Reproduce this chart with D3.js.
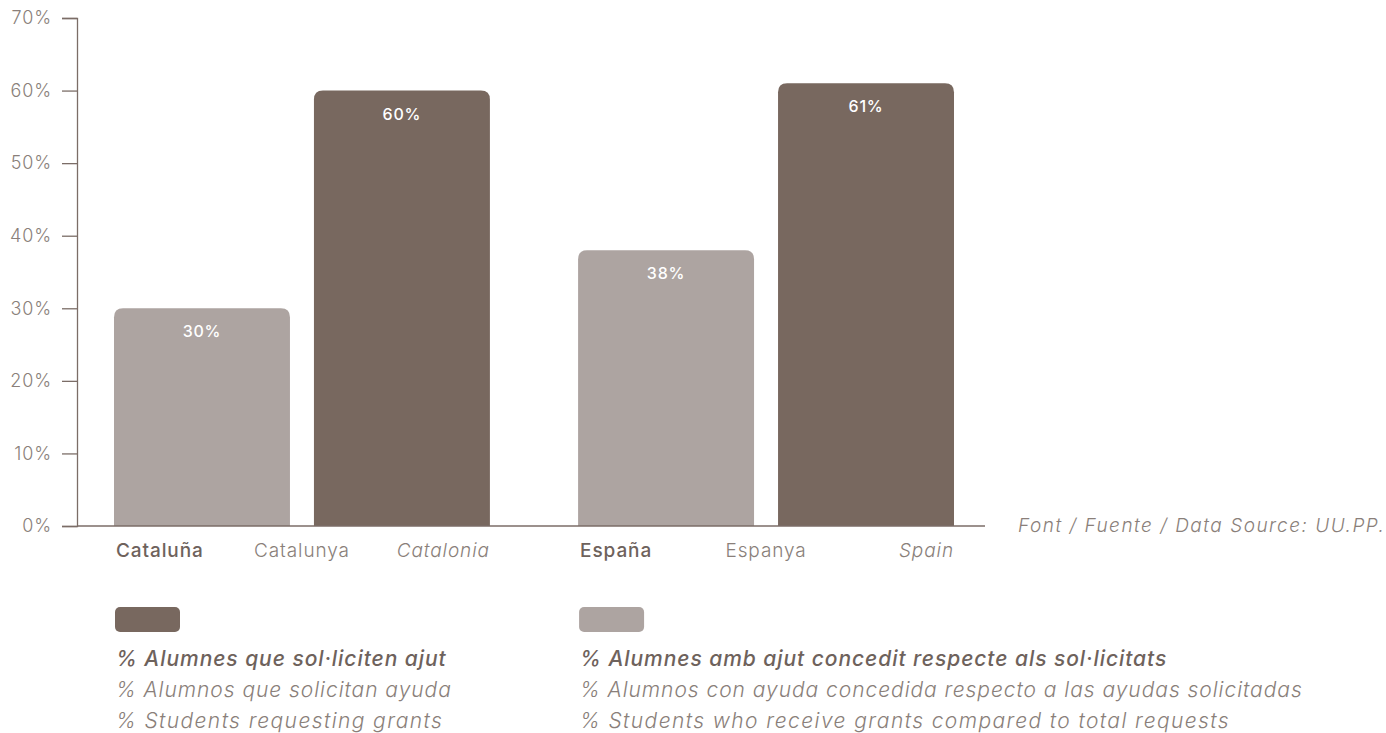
<!DOCTYPE html>
<html>
<head>
<meta charset="utf-8">
<script src="https://cdn.jsdelivr.net/npm/d3@7"></script>
<style>
  html, body { margin: 0; padding: 0; background: #ffffff; }
  svg { display: block; font-family: Inter, "Open Sans", sans-serif; }
</style>
</head>
<body>
<svg id="chart" width="1386" height="733"></svg>
<script>
// Regions and the three language labels shown under each group
const groups = ["Cataluña", "España"];
const groupLabels = [
  ["Cataluña", "Catalunya", "Catalonia"],
  ["España", "Espanya", "Spain"]
];
// Series: share of students with a granted aid vs. share requesting aid
const seriesKeys = ["concedit", "sollicitud"];
const valuesConcedit = [30, 38];
const valuesSollicitud = [60, 61];
const yTicks = [0, 10, 20, 30, 40, 50, 60, 70];
const sourceText = "Font / Fuente / Data Source: UU.PP.";
const legendDark = [
  "% Alumnes que sol·liciten ajut",
  "% Alumnos que solicitan ayuda",
  "% Students requesting grants"
];
const legendLight = [
  "% Alumnes amb ajut concedit respecte als sol·licitats",
  "% Alumnos con ayuda concedida respecto a las ayudas solicitadas",
  "% Students who receive grants compared to total requests"
];

const colors = { concedit: "#ada4a1", sollicitud: "#78685f" };
const axisColor = "#7b6d67";
const textColor = "#8a7f7a";
const darkText = "#6e625c";

const svg = d3.select("#chart");

const axisX = 77, axisRight = 985;
const y = d3.scaleLinear().domain([0, 70]).range([526, 18]);

const x0 = d3.scaleBand().domain(groups).range([114, 954]).paddingInner(0.19).paddingOuter(0);
const x1 = d3.scaleBand().domain(seriesKeys).range([0, x0.bandwidth()]).paddingInner(0.12).paddingOuter(0);

const data = groups.map((g, i) => ({
  group: g,
  values: [
    { key: "concedit", value: valuesConcedit[i] },
    { key: "sollicitud", value: valuesSollicitud[i] }
  ]
}));

// Bars with rounded top corners only
function topRoundedRect(x, yTop, w, yBottom, r) {
  return `M${x},${yBottom} L${x},${yTop + r} Q${x},${yTop} ${x + r},${yTop} ` +
         `L${x + w - r},${yTop} Q${x + w},${yTop} ${x + w},${yTop + r} L${x + w},${yBottom} Z`;
}

const gGroups = svg.append("g").selectAll("g").data(data).join("g")
  .attr("transform", d => `translate(${x0(d.group)},0)`);

gGroups.selectAll("path").data(d => d.values).join("path")
  .attr("d", d => topRoundedRect(x1(d.key), y(d.value), x1.bandwidth(), y(0), 9))
  .attr("fill", d => colors[d.key]);

gGroups.selectAll("text.val").data(d => d.values).join("text")
  .attr("class", "val")
  .attr("x", d => x1(d.key) + x1.bandwidth() / 2)
  .attr("y", d => y(d.value) + 29)
  .attr("text-anchor", "middle")
  .attr("fill", "#ffffff")
  .attr("font-size", 16)
  .attr("font-weight", 500)
  .attr("letter-spacing", 0.8)
  .text(d => d.value + "%");

// Y axis
const yAxis = d3.axisLeft(y).tickValues(yTicks).tickSize(15).tickPadding(10)
  .tickFormat(d => d + "%");
const gy = svg.append("g").attr("transform", `translate(${axisX},0)`).call(yAxis);
gy.select(".domain").attr("stroke", axisColor).attr("stroke-width", 1.3);
gy.selectAll(".tick line").attr("stroke", axisColor).attr("stroke-width", 1.3);
gy.selectAll(".tick text")
  .attr("fill", textColor)
  .attr("font-size", 18)
  .attr("font-weight", 300)
  .attr("letter-spacing", 0.9)
  .attr("font-family", "Inter, sans-serif");

// Baseline
svg.append("line")
  .attr("x1", axisX).attr("x2", axisRight)
  .attr("y1", y(0)).attr("y2", y(0))
  .attr("stroke", axisColor).attr("stroke-width", 1.3);

// Category labels
groups.forEach((g, i) => {
  const left = x0(g), right = x0(g) + x0.bandwidth();
  const labels = groupLabels[i];
  const ly = 557;
  svg.append("text").attr("x", left + 2).attr("y", ly)
    .attr("fill", darkText).attr("font-size", 19).attr("font-weight", 500)
    .attr("letter-spacing", 0.9)
    .text(labels[0]);
  svg.append("text").attr("x", (left + right) / 2).attr("y", ly)
    .attr("text-anchor", "middle")
    .attr("fill", textColor).attr("font-size", 19).attr("font-weight", 300)
    .attr("letter-spacing", 0.9)
    .text(labels[1]);
  svg.append("text").attr("x", right).attr("y", ly)
    .attr("text-anchor", "end")
    .attr("fill", textColor).attr("font-size", 19).attr("font-weight", 300)
    .attr("font-style", "italic")
    .attr("letter-spacing", 0.9)
    .text(labels[2]);
});

// Source note
svg.append("text").attr("x", 1018).attr("y", 532)
  .attr("fill", textColor).attr("font-size", 19).attr("font-weight", 300)
  .attr("font-style", "italic")
  .attr("letter-spacing", 1.5)
  .text(sourceText);

// Legend
const legendItems = [
  { key: "sollicitud", x: x0(groups[0]), lines: legendDark },
  { key: "concedit", x: x0(groups[1]), lines: legendLight }
];
legendItems.forEach(item => {
  svg.append("rect").attr("x", item.x + 1).attr("y", 607)
    .attr("width", 65).attr("height", 25).attr("rx", 5)
    .attr("fill", colors[item.key]);
  item.lines.forEach((t, j) => {
    svg.append("text").attr("x", item.x + 2).attr("y", 666 + j * 31)
      .attr("fill", j === 0 ? darkText : textColor)
      .attr("font-size", 21)
      .attr("font-weight", j === 0 ? 500 : 300)
      .attr("font-style", "italic")
      .attr("letter-spacing", j === 2 ? 1.4 : 0.95)
      .text(t);
  });
});
</script>
</body>
</html>
